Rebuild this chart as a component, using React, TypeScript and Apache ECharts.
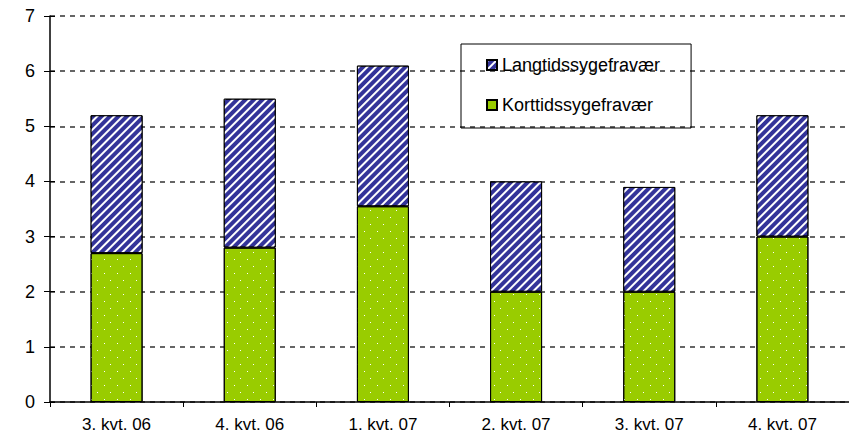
import React, { useEffect, useRef } from "react";
import * as echarts from "echarts";

const categories = ["3. kvt. 06", "4. kvt. 06", "1. kvt. 07", "2. kvt. 07", "3. kvt. 07", "4. kvt. 07"];
const korttid = [2.7, 2.8, 3.55, 2.0, 2.0, 3.0];
const langtid = [2.5, 2.7, 2.55, 2.0, 1.9, 2.2];
const seriesNames = ["Langtidssygefravær", "Korttidssygefravær"];
const yTicks = { min: 0, max: 7, interval: 1 };

const FONT = "'Liberation Sans', Arial, sans-serif";

export default function App() {
  const ref = useRef<HTMLDivElement>(null);
  useEffect(() => {
    if (!ref.current) return;
    const chart = echarts.init(ref.current, null, { renderer: "svg" });
    chart.setOption({
      animation: false,
      backgroundColor: "#fff",
      grid: { left: 50, top: 16, bottom: 37, width: 804 },
      legend: {
        data: seriesNames,
        orient: "vertical",
        left: 461,
        top: 44,
        borderColor: "#000",
        borderWidth: 1,
        padding: [12, 31, 14, 25],
        itemGap: 22,
        itemWidth: 10,
        itemHeight: 10,
        icon: "rect",
        textStyle: { fontFamily: FONT, fontSize: 18, color: "#000" },
      },
      xAxis: {
        type: "category",
        data: categories,
        axisLine: { lineStyle: { color: "#000", width: 1.5 } },
        axisTick: { show: true, length: 5, lineStyle: { color: "#000" } },
        axisLabel: { color: "#000", fontFamily: FONT, fontSize: 17, margin: 14 },
        splitLine: { show: false },
      },
      yAxis: [
        {
          type: "value",
          min: yTicks.min,
          max: yTicks.max,
          interval: yTicks.interval,
          axisLine: { show: true, lineStyle: { color: "#000", width: 1.5 } },
          axisTick: { show: true, length: 6, lineStyle: { color: "#000" } },
          axisLabel: { color: "#000", fontFamily: FONT, fontSize: 18, margin: 15 },
          splitLine: { show: true, lineStyle: { color: "#333", type: [5, 5], width: 1.5 } },
        },
        {
          type: "value",
          position: "left",
          min: yTicks.min,
          max: yTicks.max,
          interval: yTicks.interval,
          axisLine: { show: false },
          axisTick: { show: true, inside: true, length: 5, lineStyle: { color: "#000" } },
          axisLabel: { show: false },
          splitLine: { show: false },
        },
      ],
      series: [
        {
          name: seriesNames[1],
          type: "bar",
          stack: "total",
          data: korttid,
          barWidth: 52,
          itemStyle: {
            color: "#99cc00",
            borderColor: "#000",
            borderWidth: 1,
            decal: {
              symbol: "rect",
              symbolSize: 1,
              color: "#ffffff",
              dashArrayX: [[1, 12], [0, 6, 1, 6]],
              dashArrayY: [1, 6],
              rotation: 0,
            },
          },
        },
        {
          name: seriesNames[0],
          type: "bar",
          stack: "total",
          data: langtid,
          barWidth: 52,
          itemStyle: {
            color: "#333399",
            borderColor: "#000",
            borderWidth: 1,
            decal: {
              symbol: "rect",
              symbolSize: 1,
              color: "#ffffff",
              dashArrayX: [1, 0],
              dashArrayY: [2, 4],
              rotation: -Math.PI / 4,
            },
          },
        },
      ],
    });
    return () => chart.dispose();
  }, []);
  return (
    <div
      ref={ref}
      style={{ position: "fixed", left: 0, top: 0, width: 849, height: 439 }}
    />
  );
}
